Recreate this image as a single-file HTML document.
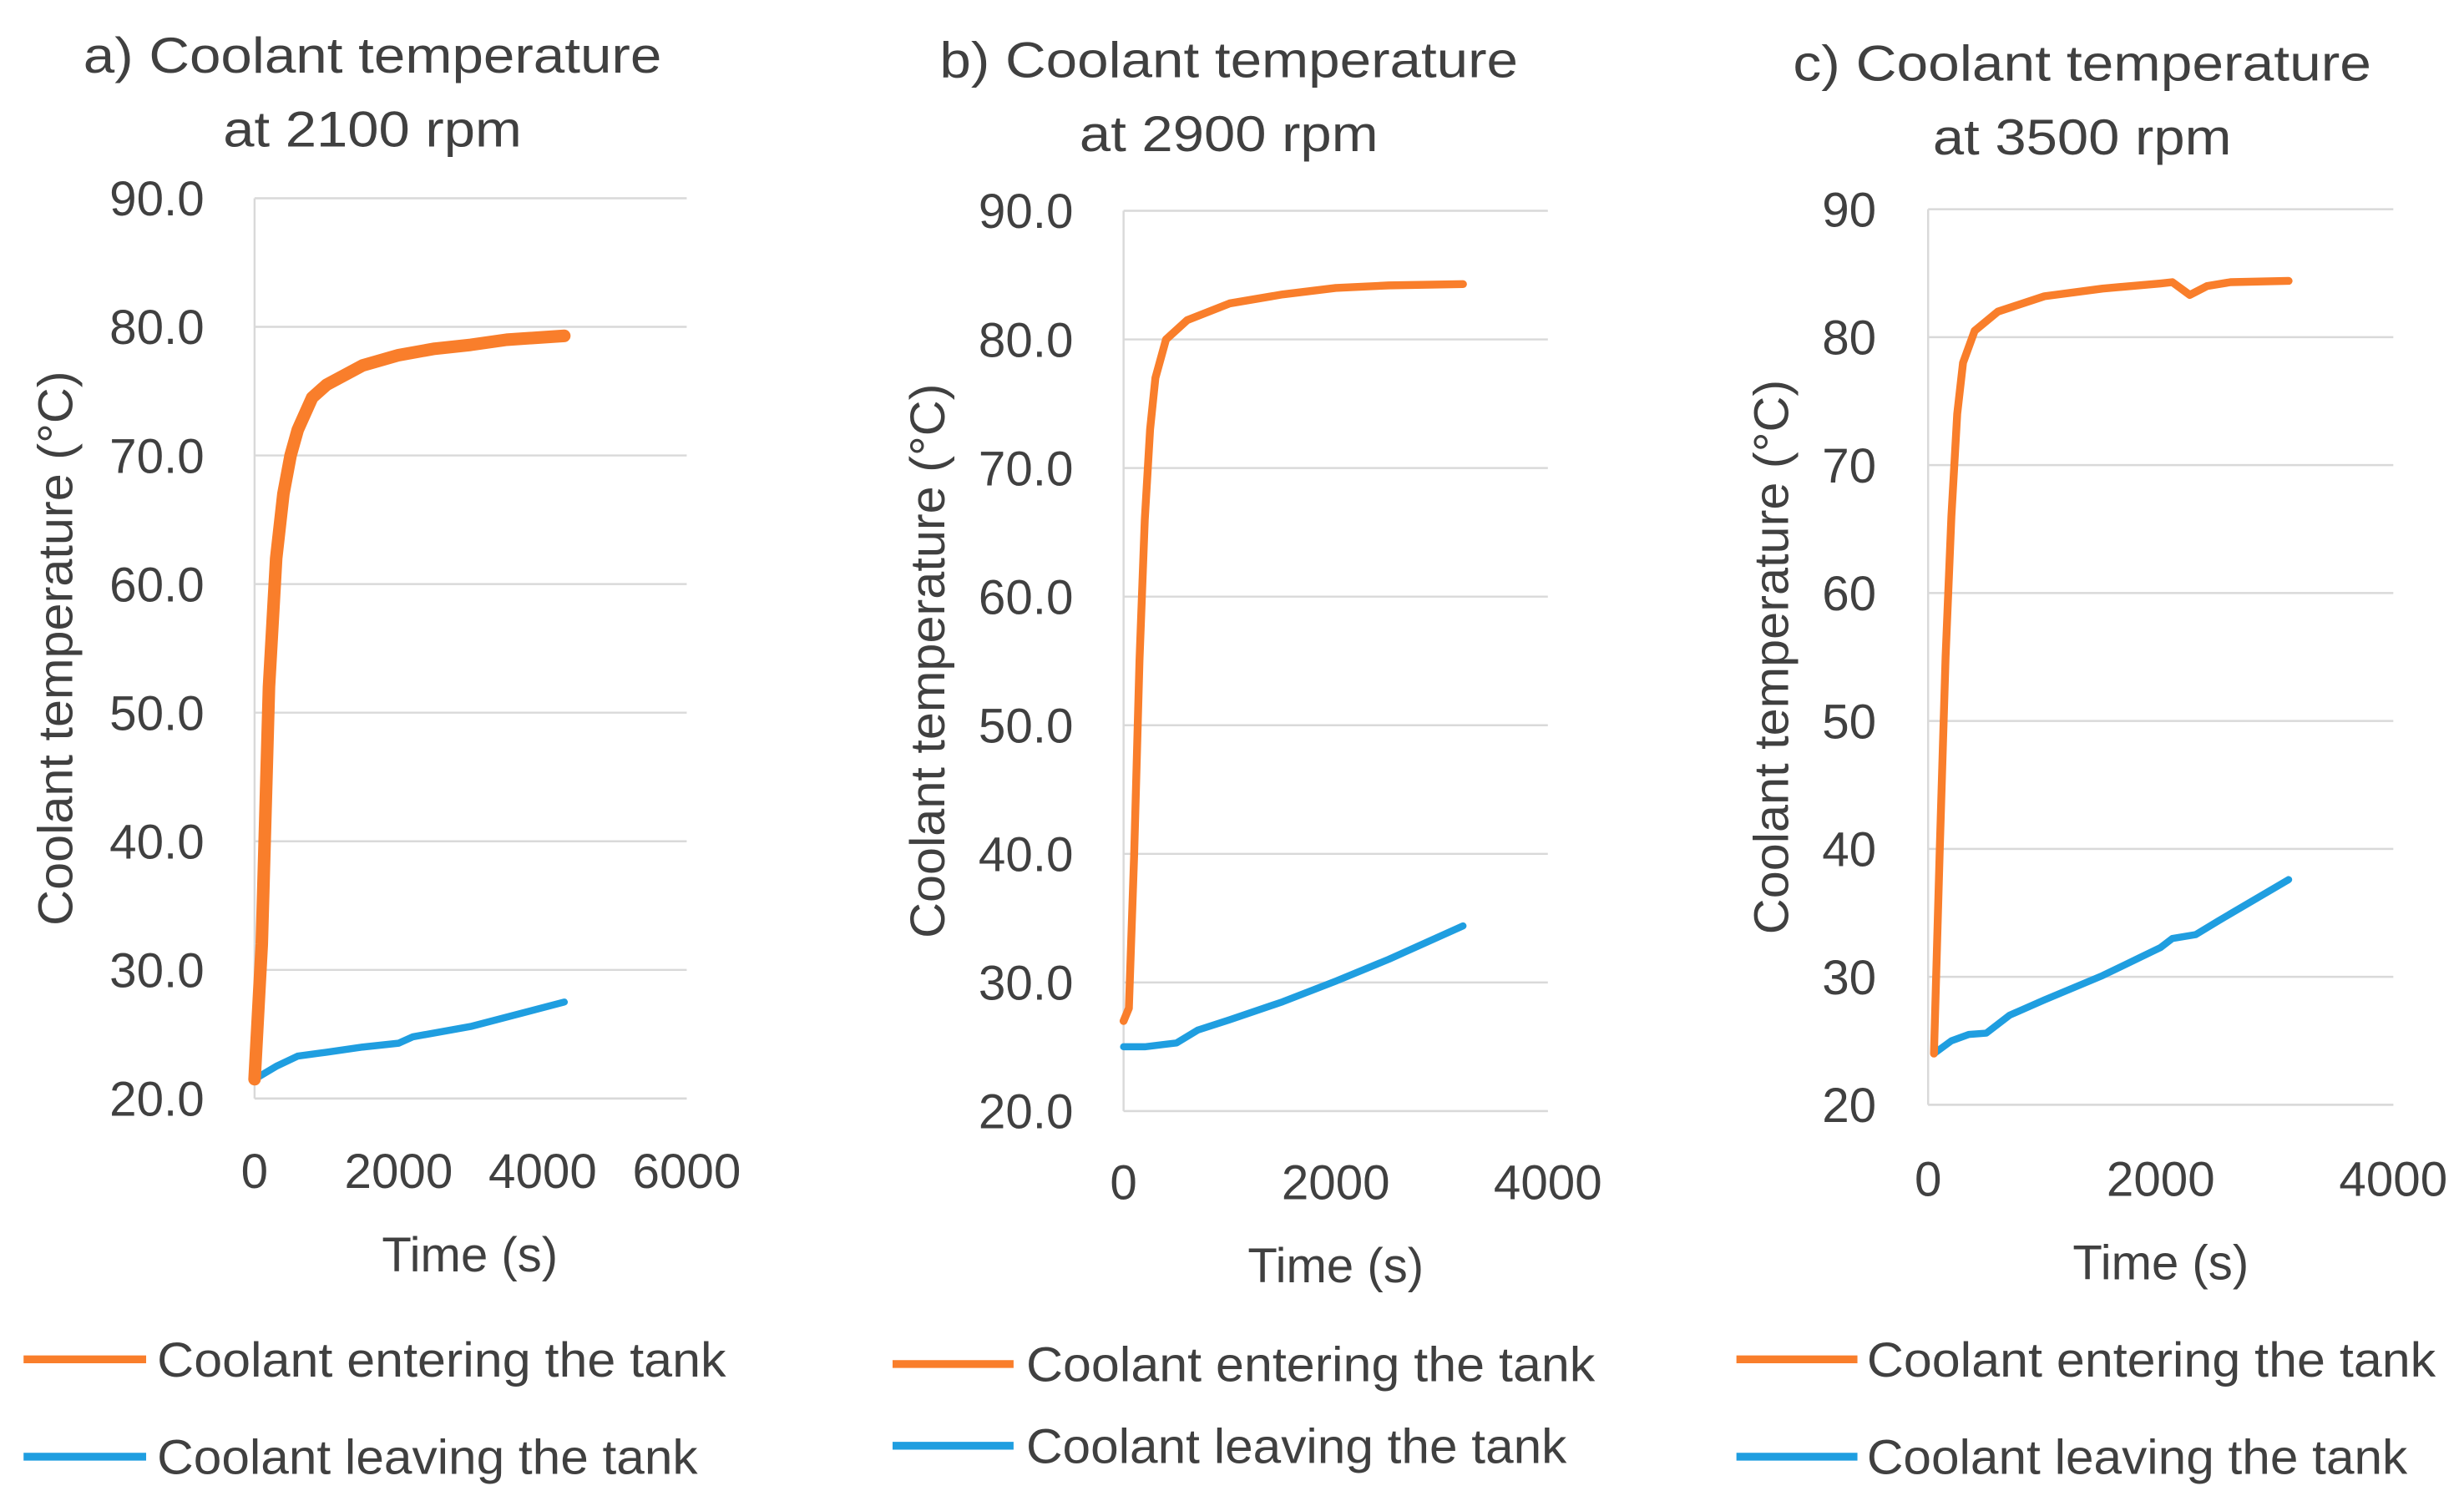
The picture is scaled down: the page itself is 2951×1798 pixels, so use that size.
<!DOCTYPE html>
<html><head><meta charset="utf-8"><style>
html,body{margin:0;padding:0;background:#fff;}
svg{display:block;font-family:"Liberation Sans",sans-serif;}
text{fill:#404040;}
</style></head><body>
<svg id="fig" width="2951" height="1798" viewBox="0 0 1568 955" xmlns="http://www.w3.org/2000/svg"></svg>
<script>
// Panel a data
const aTime=[0,100,200,300,400,500,600,800,1000,1500,2000,2500,3000,3500,4300];
const aIn=[21.5,32,52,62,67,70,72,74.5,75.5,77,77.8,78.3,78.6,79,79.3];
const aOutT=[0,300,600,1000,1500,2000,2200,3000,4300];
const aOut=[21.5,22.5,23.3,23.6,24,24.3,24.8,25.6,27.5];
const aXTicks=[0,2000,4000,6000];
const aYTicks=["20.0","30.0","40.0","50.0","60.0","70.0","80.0","90.0"];
// Panel b data
const bTime=[0,50,100,150,200,250,300,400,600,1000,1500,2000,2500,3200];
const bIn=[27,28,40,55,66,73,77,80,81.5,82.8,83.5,84,84.2,84.3];
const bOutT=[0,200,500,700,1000,1500,2000,2500,3200];
const bOut=[25,25,25.3,26.3,27.1,28.5,30.1,31.8,34.4];
const bXTicks=[0,2000,4000];
const bYTicks=["20.0","30.0","40.0","50.0","60.0","70.0","80.0","90.0"];
// Panel c data
const cTime=[50,100,150,200,250,300,400,600,1000,1500,2000,2100,2250,2400,2600,3100];
const cIn=[24,40,55,66,74,78,80.5,82,83.2,83.8,84.2,84.3,83.3,84,84.3,84.4];
const cOutT=[50,200,350,500,700,1000,1500,2000,2100,2300,2500,3100];
const cOut=[24,25,25.5,25.6,27,28.2,30.1,32.3,33,33.3,34.4,37.6];
const cXTicks=[0,2000,4000];
const cYTicks=["20","30","40","50","60","70","80","90"];

const NS="http://www.w3.org/2000/svg";
const svg=document.getElementById('fig');
function mk(tag,attrs,parent){const e=document.createElementNS(NS,tag);for(const k in attrs)e.setAttribute(k,attrs[k]);(parent||svg).appendChild(e);return e;}
function txt(s,attrs,g){const t=mk('text',attrs,g);t.textContent=s;return t;}

const panels=[
 {id:'a',x0:162,x1:437,xmax:6000,y0:699,y1:126,title:["a) Coolant temperature","at 2100 rpm"],tcx:237,ty:[35,82],xl:745,tx:299,ttl:798,yt:35,ylx:130,leg:[15,93,100,865,927],
  t1:aTime,v1:aIn,t2:aOutT,v2:aOut,xt:aXTicks,ytk:aYTicks,w1:8},
 {id:'b',x0:715,x1:985,xmax:4000,y0:707,y1:134,title:["b) Coolant temperature","at 2900 rpm"],tcx:782,ty:[38,85],xl:752,tx:850,ttl:805,yt:590,ylx:683,leg:[568,645,653,868,920],
  t1:bTime,v1:bIn,t2:bOutT,v2:bOut,xt:bXTicks,ytk:bYTicks,w1:5},
 {id:'c',x0:1227,x1:1523,xmax:4000,y0:703,y1:133,title:["c) Coolant temperature","at 3500 rpm"],tcx:1325,ty:[40,87],xl:750,tx:1375,ttl:803,yt:1127,ylx:1194,leg:[1105,1182,1188,865,927],
  t1:cTime,v1:cIn,t2:cOutT,v2:cOut,xt:cXTicks,ytk:cYTicks,w1:5}
];
panels.forEach(p=>{
 const g=mk('g',{});
 
 
 const X=v=>p.x0+(v/p.xmax)*(p.x1-p.x0);
 const Y=v=>p.y0-((v-20)/70)*(p.y0-p.y1);
 p.ytk.forEach(s=>{const v=parseFloat(s);
  const l=mk('line',{x1:p.x0,x2:p.x1,y1:Y(v),y2:Y(v),stroke:'#d9d9d9','stroke-width':1.3},g);
  
  
  const t=txt(s,{x:p.ylx,y:Y(v)+11,'text-anchor':'end','font-size':31},g);
  
  
 });
 const ax=mk('line',{x1:p.x0,x2:p.x0,y1:p.y0,y2:p.y1,stroke:'#d9d9d9','stroke-width':1.3},g);
 
 
 const ax2=mk('line',{x1:p.x0,x2:p.x1,y1:p.y0,y2:p.y0,stroke:'#d9d9d9','stroke-width':1.3},g);
 
 
 p.xt.forEach(v=>{
  const t=txt(String(v),{x:X(v),y:p.xl+11,'text-anchor':'middle','font-size':31},g);
  
  
 });
 p.title.forEach((s,i)=>{
  const t=txt(s,{x:p.tcx,y:p.ty[i]+11,'text-anchor':'middle','font-size':32,textLength:i?190:368,lengthAdjust:'spacingAndGlyphs'},g);
  
  
 });
 const xt=txt('Time (s)',{x:p.tx,y:p.ttl+11,'text-anchor':'middle','font-size':31,textLength:112,lengthAdjust:'spacingAndGlyphs'},g);
 
 
 const cy=(p.y0+p.y1)/2;
 const yt=txt('Coolant temperature (°C)',{x:p.yt+11,y:cy,'text-anchor':'middle','font-size':31,textLength:353,lengthAdjust:'spacingAndGlyphs',transform:`rotate(-90 ${p.yt+11} ${cy})`},g);
 
 
 const d2=p.t2.map((t,i)=>(i?'L':'M')+X(t)+' '+Y(p.v2[i])).join(' ');
 const l2=mk('path',{d:d2,fill:'none',stroke:'#1f9ee0','stroke-width':4.5,'stroke-linejoin':'round','stroke-linecap':'round'},g);
 
 
 const d1=p.t1.map((t,i)=>(i?'L':'M')+X(t)+' '+Y(p.v1[i])).join(' ');
 const l1=mk('path',{d:d1,fill:'none',stroke:'#f97e2b','stroke-width':p.w1,'stroke-linejoin':'round','stroke-linecap':'round'},g);
 
 
 const L=p.leg;
 [['Coolant entering the tank','#f97e2b',L[3],362],['Coolant leaving the tank','#1f9ee0',L[4],344]].forEach(([s,c,y,w],i)=>{
  const lg=mk('g',{},g);
  
  
  mk('line',{x1:L[0],x2:L[1],y1:y,y2:y,stroke:c,'stroke-width':5},lg);
  txt(s,{x:L[2],y:y+11,'font-size':31,textLength:w,lengthAdjust:'spacingAndGlyphs'},lg);
 });
});
</script>
</body></html>
